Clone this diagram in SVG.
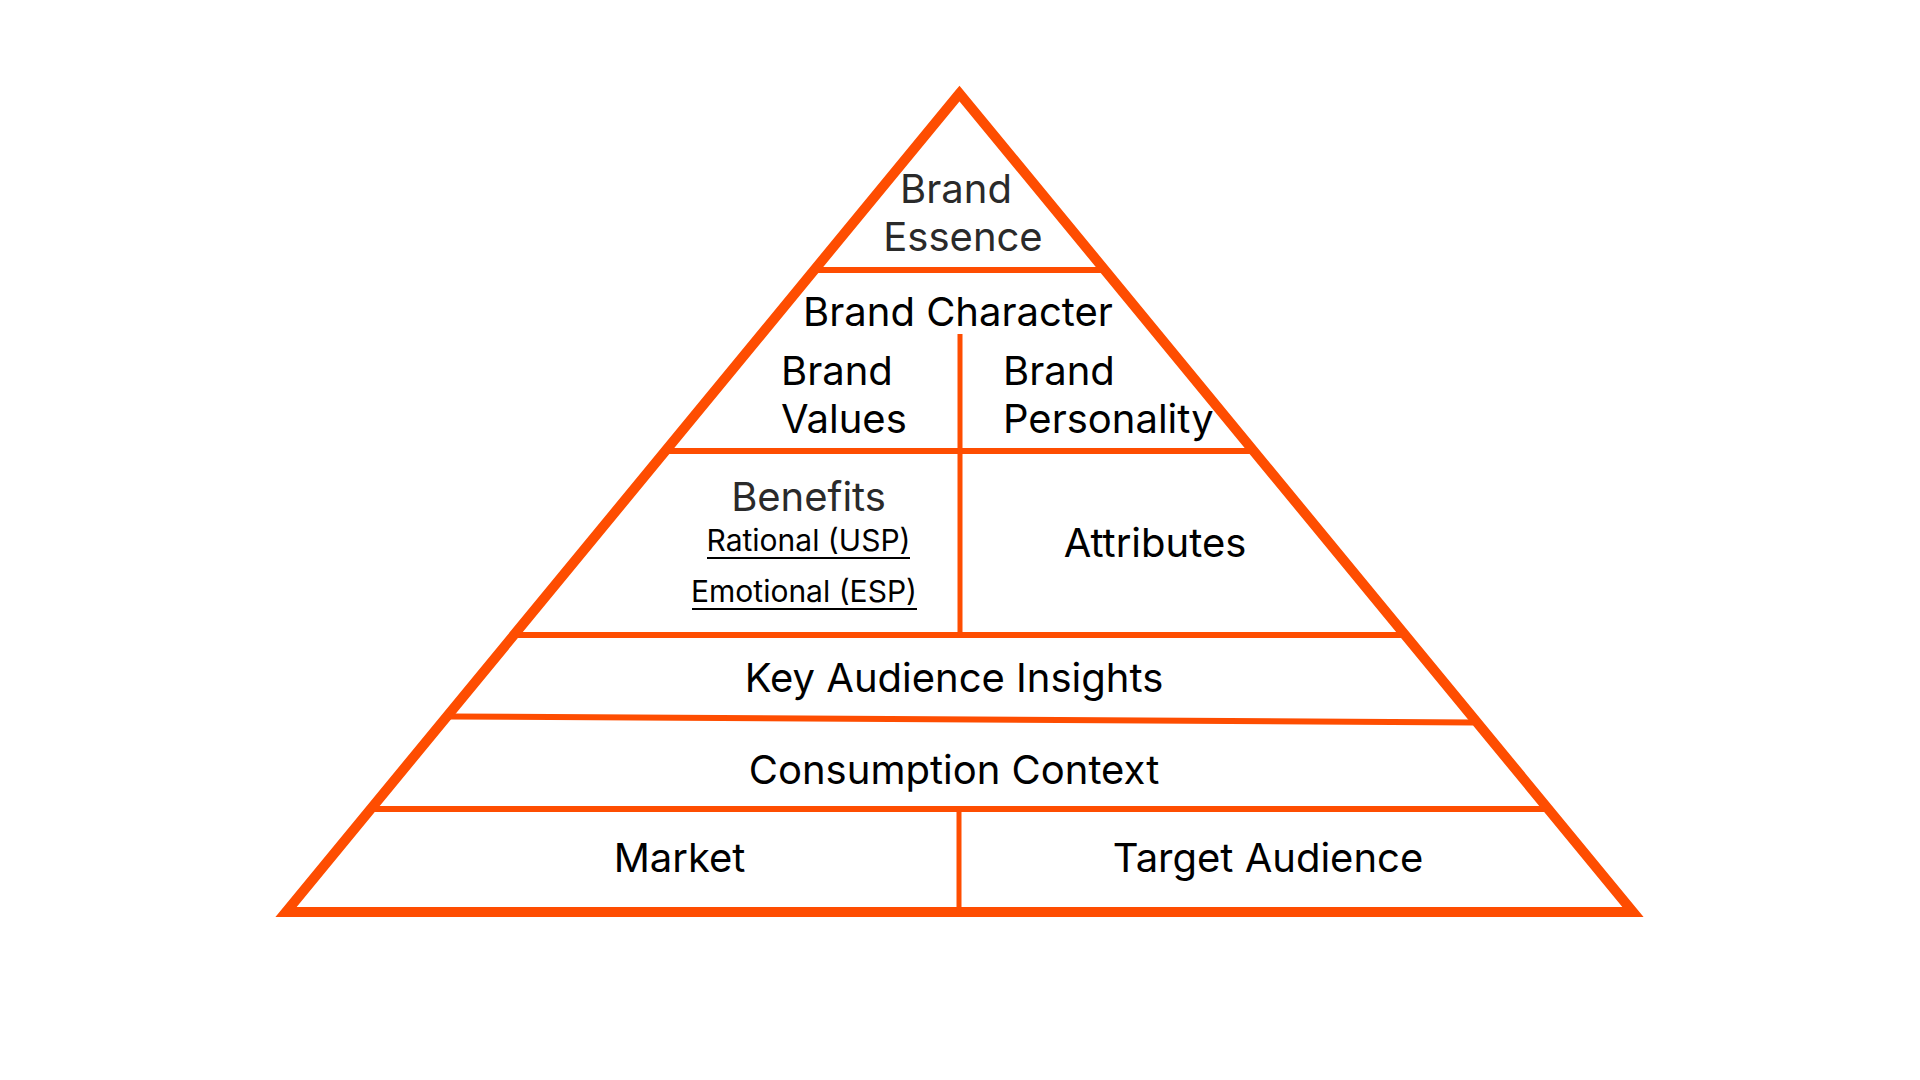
<svg xmlns="http://www.w3.org/2000/svg" width="1920" height="1080" viewBox="0 0 1920 1080">
<style>
.edge{fill:none;stroke:#FE4D01;stroke-linejoin:miter}
.outline{stroke-width:10}
.div{stroke-width:6}
.vdiv{stroke-width:5}
.t{font-family:Inter,"Noto Sans","Liberation Sans",sans-serif;font-size:40px;fill:#000}
.g{fill:#2a2a2a}
.s{font-size:30px}
.mid{text-anchor:middle}
.ul{stroke:#000;stroke-width:2}
</style>
<rect width="1920" height="1080" fill="#fff"/>
<g id="connectors">
<polygon class="edge outline" points="959.5,93.5 286,912 1633,912"/>
<line class="edge div" x1="814" y1="270" x2="1105" y2="270"/>
<line class="edge div" x1="665" y1="451" x2="1254" y2="451"/>
<line class="edge div" x1="514" y1="635" x2="1405" y2="635"/>
<line class="edge div" x1="450" y1="716.5" x2="1473" y2="722.5"/>
<line class="edge div" x1="371" y1="809" x2="1548" y2="809"/>
<line class="edge vdiv" x1="960" y1="334" x2="960" y2="635"/>
<line class="edge vdiv" x1="959" y1="809" x2="959" y2="912"/>
</g>
<g id="brand-essence">
<text class="t g mid" x="956" y="203">Brand</text>
<text class="t g mid" x="963" y="251">Essence</text>
</g>
<g id="brand-character">
<text class="t mid" x="958" y="326">Brand Character</text>
</g>
<g id="brand-values">
<text class="t" x="781" y="385">Brand</text>
<text class="t" x="781" y="433">Values</text>
</g>
<g id="brand-personality">
<text class="t" x="1003" y="385">Brand</text>
<text class="t" x="1003" y="433">Personality</text>
</g>
<g id="benefits">
<text class="t g mid" x="808.5" y="511">Benefits</text>
<text class="t s mid" x="808.5" y="551">Rational (USP)</text>
<line class="ul" x1="707" y1="558" x2="910" y2="558"/>
<text class="t s mid" x="804" y="602">Emotional (ESP)</text>
<line class="ul" x1="692" y1="609" x2="917" y2="609"/>
</g>
<g id="attributes">
<text class="t mid" x="1155" y="557">Attributes</text>
</g>
<g id="key-audience-insights">
<text class="t mid" x="954" y="692">Key Audience Insights</text>
</g>
<g id="consumption-context">
<text class="t mid" x="954" y="784">Consumption Context</text>
</g>
<g id="market">
<text class="t mid" x="679.5" y="872">Market</text>
</g>
<g id="target-audience">
<text class="t mid" x="1268" y="872">Target Audience</text>
</g>
</svg>
